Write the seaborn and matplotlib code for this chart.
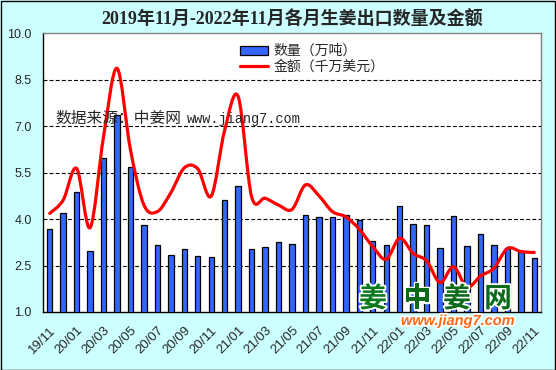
import matplotlib
matplotlib.use("Agg")
import matplotlib.pyplot as plt
import seaborn as sns
import pandas as pd
import numpy as np
from matplotlib.path import Path
from matplotlib.patches import PathPatch, Patch, Rectangle
from matplotlib.lines import Line2D
import matplotlib.patheffects as pe

months = ["19/11", "19/12"] + [f"{y}/{m:02d}" for y in (20, 21) for m in range(1, 13)] + [f"22/{m:02d}" for m in range(1, 12)]
quantity = [3.67, 4.18, 4.86, 2.97, 5.96, 7.34, 5.67, 3.81, 3.15, 2.83, 3.02, 2.80, 2.76,
            4.60, 5.06, 3.02, 3.09, 3.26, 3.19, 4.13, 4.05, 4.05, 4.12, 3.97, 3.29, 3.15,
            4.42, 3.84, 3.80, 3.05, 4.10, 3.13, 3.52, 3.16, 3.05, 2.93, 2.74]
amount = [4.18, 4.61, 5.63, 3.72, 6.66, 8.86, 6.23, 4.45, 4.24, 4.85, 5.65, 5.62, 4.74,
          6.87, 7.95, 4.72, 4.67, 4.45, 4.31, 5.10, 4.75, 4.24, 4.07, 3.67, 3.11, 2.70,
          3.38, 2.89, 2.65, 1.95, 2.46, 1.80, 2.16, 2.41, 3.05, 2.95, 2.92]
yticks = [1.0, 2.5, 4.0, 5.5, 7.0, 8.5, 10.0]
title = "2019年11月-2022年11月各月生姜出口数量及金额"
label_qty = "数量（万吨）"
label_amt = "金额（千万美元）"

sns.set_theme(style="white")
plt.rcParams['font.family'] = ['Liberation Sans', 'Noto Sans CJK SC', 'DejaVu Sans']

W, H = 556, 370
fig = plt.figure(figsize=(W / 100, H / 100), dpi=100, facecolor="#CCFFFF")
fig.patches.append(Rectangle((0.5 / W, 0.5 / H), 1 - 1.5 / W, 1 - 1.5 / H, transform=fig.transFigure,
                             fill=False, edgecolor="black", lw=1.0, zorder=10))
ax = fig.add_axes([43 / W, 1 - 312 / H, (541 - 43) / W, (312 - 33) / H])
ax.set_facecolor("white")

df = pd.DataFrame({"month": months, "qty": quantity, "amt": amount})
sns.barplot(data=df, x="month", y="qty", color="#3366FF", saturation=1, width=0.4,
            edgecolor="black", linewidth=0.9, ax=ax, zorder=3)

# smooth line (Catmull-Rom as cubic Bezier through the data points)
xs = np.arange(len(amount), dtype=float)
ys = np.array(amount, dtype=float)
verts = [(xs[0], ys[0])]
codes = [Path.MOVETO]
n = len(xs)
for i in range(n - 1):
    p0 = np.array([xs[max(i - 1, 0)], ys[max(i - 1, 0)]])
    p1 = np.array([xs[i], ys[i]])
    p2 = np.array([xs[i + 1], ys[i + 1]])
    p3 = np.array([xs[min(i + 2, n - 1)], ys[min(i + 2, n - 1)]])
    c1 = p1 + (p2 - p0) / 6.0
    c2 = p2 - (p3 - p1) / 6.0
    verts += [tuple(c1), tuple(c2), tuple(p2)]
    codes += [Path.CURVE4] * 3
ax.add_patch(PathPatch(Path(verts, codes), fill=False, edgecolor="#FF0000", lw=2.3, zorder=4,
                       capstyle="round", joinstyle="round"))

ax.set_ylim(1.0, 10.0)
ax.set_xlim(-0.5, len(months) - 0.5)
ax.set_yticks(yticks)
ax.set_yticklabels([f"{v:.1f}" for v in yticks], fontsize=9)
for v in yticks[1:-1]:
    ax.axhline(v, color="black", lw=0.8, ls=(0, (3.5, 2)), zorder=1)

ax.set_xticks(range(0, len(months), 2))
ax.set_xticklabels(months[::2], rotation=45, ha="right", rotation_mode="anchor", fontsize=9.5)
ax.tick_params(axis="both", length=0, pad=8)
ax.tick_params(axis="x", pad=9)
ax.set_xlabel("")
ax.set_ylabel("")
for s in ("left", "bottom"):
    ax.spines[s].set_color("black")
    ax.spines[s].set_linewidth(1.0)
for s in ("top", "right"):
    ax.spines[s].set_color("#808080")
    ax.spines[s].set_linewidth(1.0)

fig.text(292 / W, 1 - 20 / H, title, ha="center", va="center", fontsize=13, fontweight="bold",
         family=["Liberation Serif", "Noto Sans CJK SC"])

handles = [Patch(facecolor="#3366FF", edgecolor="black", linewidth=0.9),
           Line2D([0], [0], color="#FF0000", lw=2.3)]
leg = fig.legend(handles, [label_qty, label_amt], loc="upper left",
                 bbox_to_anchor=(240 / W, 1 - 44 / H), frameon=False,
                 handlelength=2.0, handleheight=0.6, handletextpad=0.4, labelspacing=0.15,
                 borderpad=0, borderaxespad=0, prop={"family": ["Noto Sans CJK SC"], "size": 10})

# watermark text
fig.text(55 / W, 1 - 118 / H, "数据来源：中姜网", ha="left", va="center", fontsize=11.3,
         family=["Noto Sans CJK SC"], zorder=2)
fig.text(187 / W, 1 - 119 / H, "www.jiang7.com", ha="left", va="center", fontsize=9.8,
         family=["Liberation Mono"], zorder=2)

# logo
stroke = [pe.withStroke(linewidth=2.5, foreground="white")]
for cx, ch, col in [(373, "姜", "#0B7A1E"), (417, "中", "#0B6B1A"), (457, "姜", "#0B6B1A"), (498, "网", "#0B6B1A")]:
    fig.text(cx / W, 1 - 299 / H, ch, ha="center", va="center", fontsize=20, fontweight="bold",
             color=col, family=["Noto Sans CJK SC"], path_effects=stroke, zorder=5)
fig.text(458 / W, 1 - 321 / H, "www.jiang7.com", ha="center", va="center", fontsize=10.5,
         fontweight="bold", style="italic", color="#FF6A13", family=["Liberation Sans"],
         path_effects=stroke, zorder=5)

fig.savefig("out.png", dpi=100, facecolor=fig.get_facecolor())
